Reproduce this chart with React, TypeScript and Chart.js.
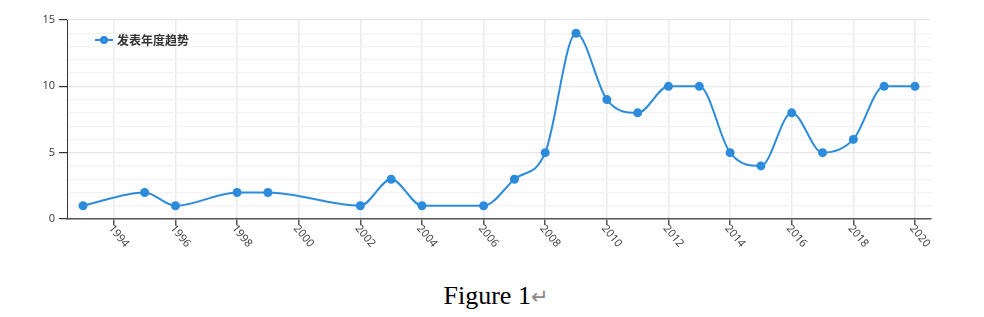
import React, { useEffect, useRef } from "react";
import { Chart, registerables } from "chart.js";

Chart.register(...registerables);

const years = [1993, 1995, 1996, 1998, 1999, 2002, 2003, 2004, 2006, 2007, 2008, 2009, 2010, 2011, 2012, 2013, 2014, 2015, 2016, 2017, 2018, 2019, 2020];
const counts = [1, 2, 1, 2, 2, 1, 3, 1, 1, 3, 5, 14, 9, 8, 10, 10, 5, 4, 8, 5, 6, 10, 10];
const xTickYears = [1994, 1996, 1998, 2000, 2002, 2004, 2006, 2008, 2010, 2012, 2014, 2016, 2018, 2020];
const yMajorTicks = [0, 5, 10, 15];
const seriesName = "发表年度趋势";
const caption = "Figure 1";

const LINE = "#2d8bdb";
const W = 984;
const H = 265;

export default function App() {
  const ref = useRef<HTMLCanvasElement | null>(null);

  useEffect(() => {
    if (!ref.current) return;
    const custom = {
      id: "custom",
      afterDraw(chart: any) {
        const ctx = chart.ctx;
        const xs = chart.scales.x;
        const area = chart.chartArea;
        ctx.save();
        ctx.fillStyle = "#333";
        ctx.font = "11px 'Open Sans', 'Noto Sans', sans-serif";
        ctx.textAlign = "left";
        ctx.textBaseline = "top";
        for (const yr of xTickYears) {
          const px = xs.getPixelForValue(yr);
          ctx.save();
          ctx.translate(px + 1, area.bottom + 4);
          ctx.rotate((50 * Math.PI) / 180);
          ctx.fillText(String(yr), 0, 0);
          ctx.restore();
        }
        // legend
        const lx = area.left + 28;
        const ly = area.top + 20;
        ctx.strokeStyle = LINE;
        ctx.lineWidth = 2;
        ctx.beginPath();
        ctx.moveTo(lx, ly);
        ctx.lineTo(lx + 18, ly);
        ctx.stroke();
        ctx.fillStyle = LINE;
        ctx.beginPath();
        ctx.arc(lx + 9, ly, 4, 0, Math.PI * 2);
        ctx.fill();
        ctx.fillStyle = "#333";
        ctx.font = "bold 12px 'Noto Sans CJK SC', sans-serif";
        ctx.textBaseline = "middle";
        ctx.fillText(seriesName, lx + 22, ly);
        ctx.restore();
      },
    };

    const chart = new Chart(ref.current, {
      type: "line",
      data: {
        datasets: [
          {
            label: seriesName,
            data: years.map((y, i) => ({ x: y, y: counts[i] })),
            borderColor: LINE,
            backgroundColor: LINE,
            borderWidth: 2,
            pointRadius: 4.5,
            pointHoverRadius: 4.5,
            pointBackgroundColor: LINE,
            pointBorderWidth: 0,
            cubicInterpolationMode: "monotone",
            fill: false,
          },
        ],
      },
      options: {
        responsive: false,
        animation: false,
        devicePixelRatio: 1,
        layout: { padding: { top: 20, right: 53, left: 0, bottom: 0 } },
        plugins: { legend: { display: false }, tooltip: { enabled: false } },
        scales: {
          x: {
            type: "linear",
            min: 1992.48,
            max: 2020.52,
            afterBuildTicks: (scale: any) => {
              scale.ticks = xTickYears.map((v) => ({ value: v }));
            },
            afterFit: (scale: any) => {
              scale.height = H - 219;
            },
            ticks: { display: false },
            grid: {
              color: "#ebebeb",
              lineWidth: 1.5,
              drawTicks: true,
              tickLength: 6,
              tickColor: "#555",
            },
            border: { color: "#555", width: 1.5 },
          },
          y: {
            min: 0,
            max: 15,
            afterBuildTicks: (scale: any) => {
              const t = [];
              for (let v = 0; v <= 15; v++) t.push({ value: v });
              scale.ticks = t;
            },
            afterFit: (scale: any) => {
              scale.width = 67;
            },
            ticks: {
              autoSkip: false,
              color: "#333",
              font: { size: 11, family: "'Open Sans', 'Noto Sans', sans-serif" },
              padding: 4,
              callback: (v: any) => (yMajorTicks.includes(Number(v)) ? String(v) : ""),
            },
            grid: {
              color: (c: any) => (c.tick && yMajorTicks.includes(c.tick.value) ? "#e6e6e6" : "#f3f3f3"),
              lineWidth: 1.2,
              tickLength: 8,
              tickColor: (c: any) => (c.tick && yMajorTicks.includes(c.tick.value) ? "#333" : "rgba(0,0,0,0)"),
            },
            border: { color: "#333", width: 1 },
          },
        },
      },
      plugins: [custom],
    } as any);
    return () => chart.destroy();
  }, []);

  return (
    <div style={{ position: "fixed", left: 0, top: 0, width: W, height: 317, background: "#fff" }}>
      <canvas ref={ref} width={W} height={H} style={{ position: "absolute", left: 0, top: 0, width: W, height: H }} />
      <div
        style={{
          position: "absolute",
          left: 8,
          top: 283,
          width: W - 8,
          textAlign: "center",
          fontFamily: "'Liberation Serif', serif",
          fontSize: 26,
          lineHeight: "26px",
          color: "#000",
        }}
      >
        {caption}
        <span style={{ color: "#888", fontFamily: "'DejaVu Sans', sans-serif", fontSize: 21 }}>↵</span>
      </div>
    </div>
  );
}
